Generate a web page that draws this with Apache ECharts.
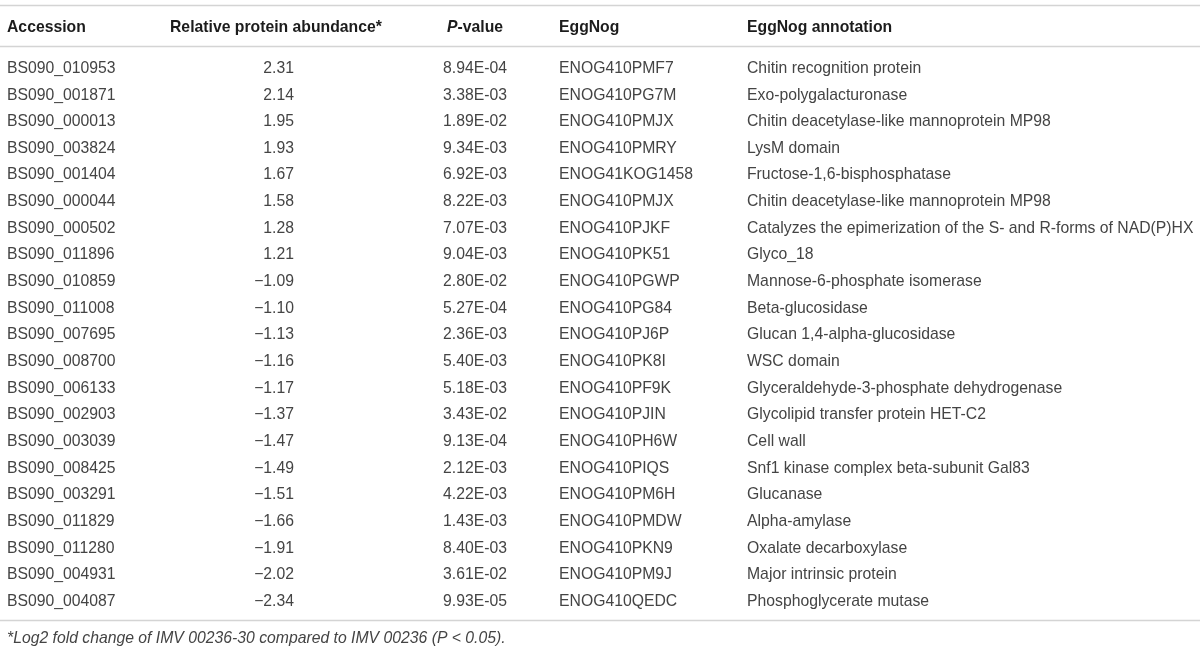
<!DOCTYPE html>
<html>
<head>
<meta charset="utf-8">
<script src="https://cdn.jsdelivr.net/npm/echarts@6/dist/echarts.min.js"></script>
<style>
html,body{margin:0;padding:0;background:#fff;}
#chart{width:1200px;height:651px;}
</style>
</head>
<body>
<div id="chart"></div>
<script>
// ---- data ----
var accessions = ["BS090_010953","BS090_001871","BS090_000013","BS090_003824","BS090_001404","BS090_000044","BS090_000502","BS090_011896","BS090_010859","BS090_011008","BS090_007695","BS090_008700","BS090_006133","BS090_002903","BS090_003039","BS090_008425","BS090_003291","BS090_011829","BS090_011280","BS090_004931","BS090_004087"];
var abundance = [2.31,2.14,1.95,1.93,1.67,1.58,1.28,1.21,-1.09,-1.10,-1.13,-1.16,-1.17,-1.37,-1.47,-1.49,-1.51,-1.66,-1.91,-2.02,-2.34];
var pvalues = [8.94e-4,3.38e-3,1.89e-2,9.34e-3,6.92e-3,8.22e-3,7.07e-3,9.04e-3,2.80e-2,5.27e-4,2.36e-3,5.40e-3,5.18e-3,3.43e-2,9.13e-4,2.12e-3,4.22e-3,1.43e-3,8.40e-3,3.61e-2,9.93e-5];
var eggnog = ["ENOG410PMF7","ENOG410PG7M","ENOG410PMJX","ENOG410PMRY","ENOG41KOG1458","ENOG410PMJX","ENOG410PJKF","ENOG410PK51","ENOG410PGWP","ENOG410PG84","ENOG410PJ6P","ENOG410PK8I","ENOG410PF9K","ENOG410PJIN","ENOG410PH6W","ENOG410PIQS","ENOG410PM6H","ENOG410PMDW","ENOG410PKN9","ENOG410PM9J","ENOG410QEDC"];
var annotations = ["Chitin recognition protein","Exo-polygalacturonase","Chitin deacetylase-like mannoprotein MP98","LysM domain","Fructose-1,6-bisphosphatase","Chitin deacetylase-like mannoprotein MP98","Catalyzes the epimerization of the S- and R-forms of NAD(P)HX","Glyco_18","Mannose-6-phosphate isomerase","Beta-glucosidase","Glucan 1,4-alpha-glucosidase","WSC domain","Glyceraldehyde-3-phosphate dehydrogenase","Glycolipid transfer protein HET-C2","Cell wall","Snf1 kinase complex beta-subunit Gal83","Glucanase","Alpha-amylase","Oxalate decarboxylase","Major intrinsic protein","Phosphoglycerate mutase"];
var headers = ["Accession","Relative protein abundance*","P-value","EggNog","EggNog annotation"];
var footnote = "*Log2 fold change of IMV 00236-30 compared to IMV 00236 (P < 0.05).";

// ---- layout (not data) ----
var FONT = '"Liberation Sans", Arial, Helvetica, sans-serif';
var FS = 15.75;
var BODY = '#444444';
var HEAD = '#1c1c1c';
var LINE = '#d4d4d4';
var cols = [
  {x: 7,   align: 'left'},
  {x: 294, align: 'right'},
  {x: 475, align: 'center'},
  {x: 559, align: 'left'},
  {x: 747, align: 'left'}
];
var headerX = [7, 170, 475, 559, 747];
var headerAlign = ['left','left','center','left','left'];

function fmtAbund(v){ var s = Math.abs(v).toFixed(2); return (v < 0 ? '\u2212' : '') + s; }
function fmtP(v){
  var s = v.toExponential(2).toUpperCase();
  var parts = s.split('E');
  var e = parseInt(parts[1], 10);
  var sign = e < 0 ? '-' : '+';
  var a = Math.abs(e);
  return parts[0] + 'E' + sign + (a < 10 ? '0' + a : '' + a);
}

var columnText = [
  accessions,
  abundance.map(fmtAbund),
  pvalues.map(fmtP),
  eggnog,
  annotations
];

function makeSeries(ci){
  var data = accessions.map(function(_, i){ return [cols[ci].x, i]; });
  return {
    type: 'custom',
    coordinateSystem: 'cartesian2d',
    silent: true,
    data: data,
    renderItem: function(params, api){
      var p = api.coord([api.value(0), api.value(1)]);
      return {
        type: 'text',
        x: p[0], y: p[1],
        style: {
          text: columnText[ci][params.dataIndex],
          fill: BODY,
          fontSize: FS,
          fontFamily: FONT,
          align: cols[ci].align,
          verticalAlign: 'middle'
        }
      };
    }
  };
}

var graphics = [
  {type:'line', shape:{x1:0,y1:5.5,x2:1200,y2:5.5}, style:{stroke:LINE, lineWidth:1.5}, silent:true},
  {type:'line', shape:{x1:0,y1:46.5,x2:1200,y2:46.5}, style:{stroke:LINE, lineWidth:1.5}, silent:true},
  {type:'line', shape:{x1:0,y1:620.5,x2:1200,y2:620.5}, style:{stroke:LINE, lineWidth:1.5}, silent:true}
];
headers.forEach(function(h, i){
  var el = {
    type:'text', x: headerX[i], y: 27.5, silent:true,
    style:{
      text: h, fill: HEAD, fontSize: FS, fontWeight: 'bold', fontFamily: FONT,
      align: headerAlign[i], verticalAlign: 'middle'
    }
  };
  if (h === 'P-value') {
    el.style.text = '{i|P}{b|-value}';
    el.style.rich = {
      i: {fontStyle:'italic', fontWeight:'bold', fontSize:FS, fontFamily:FONT, fill:HEAD},
      b: {fontWeight:'bold', fontSize:FS, fontFamily:FONT, fill:HEAD}
    };
  }
  graphics.push(el);
});
graphics.push({
  type:'text', x: 7, y: 638.5, silent:true,
  style:{text: footnote, fill: BODY, fontSize: FS, fontStyle:'italic', fontFamily: FONT, align:'left', verticalAlign:'middle'}
});

var chart = echarts.init(document.getElementById('chart'), null, {renderer:'canvas'});
chart.setOption({
  animation: false,
  backgroundColor: '#ffffff',
  grid: {left: 0, right: 0, top: 55.2, height: 559.65, containLabel: false},
  xAxis: {type:'value', min:0, max:1200, show:false},
  yAxis: {type:'category', data: accessions, inverse: true, show:false},
  series: [0,1,2,3,4].map(makeSeries),
  graphic: graphics
});
</script>
</body>
</html>
